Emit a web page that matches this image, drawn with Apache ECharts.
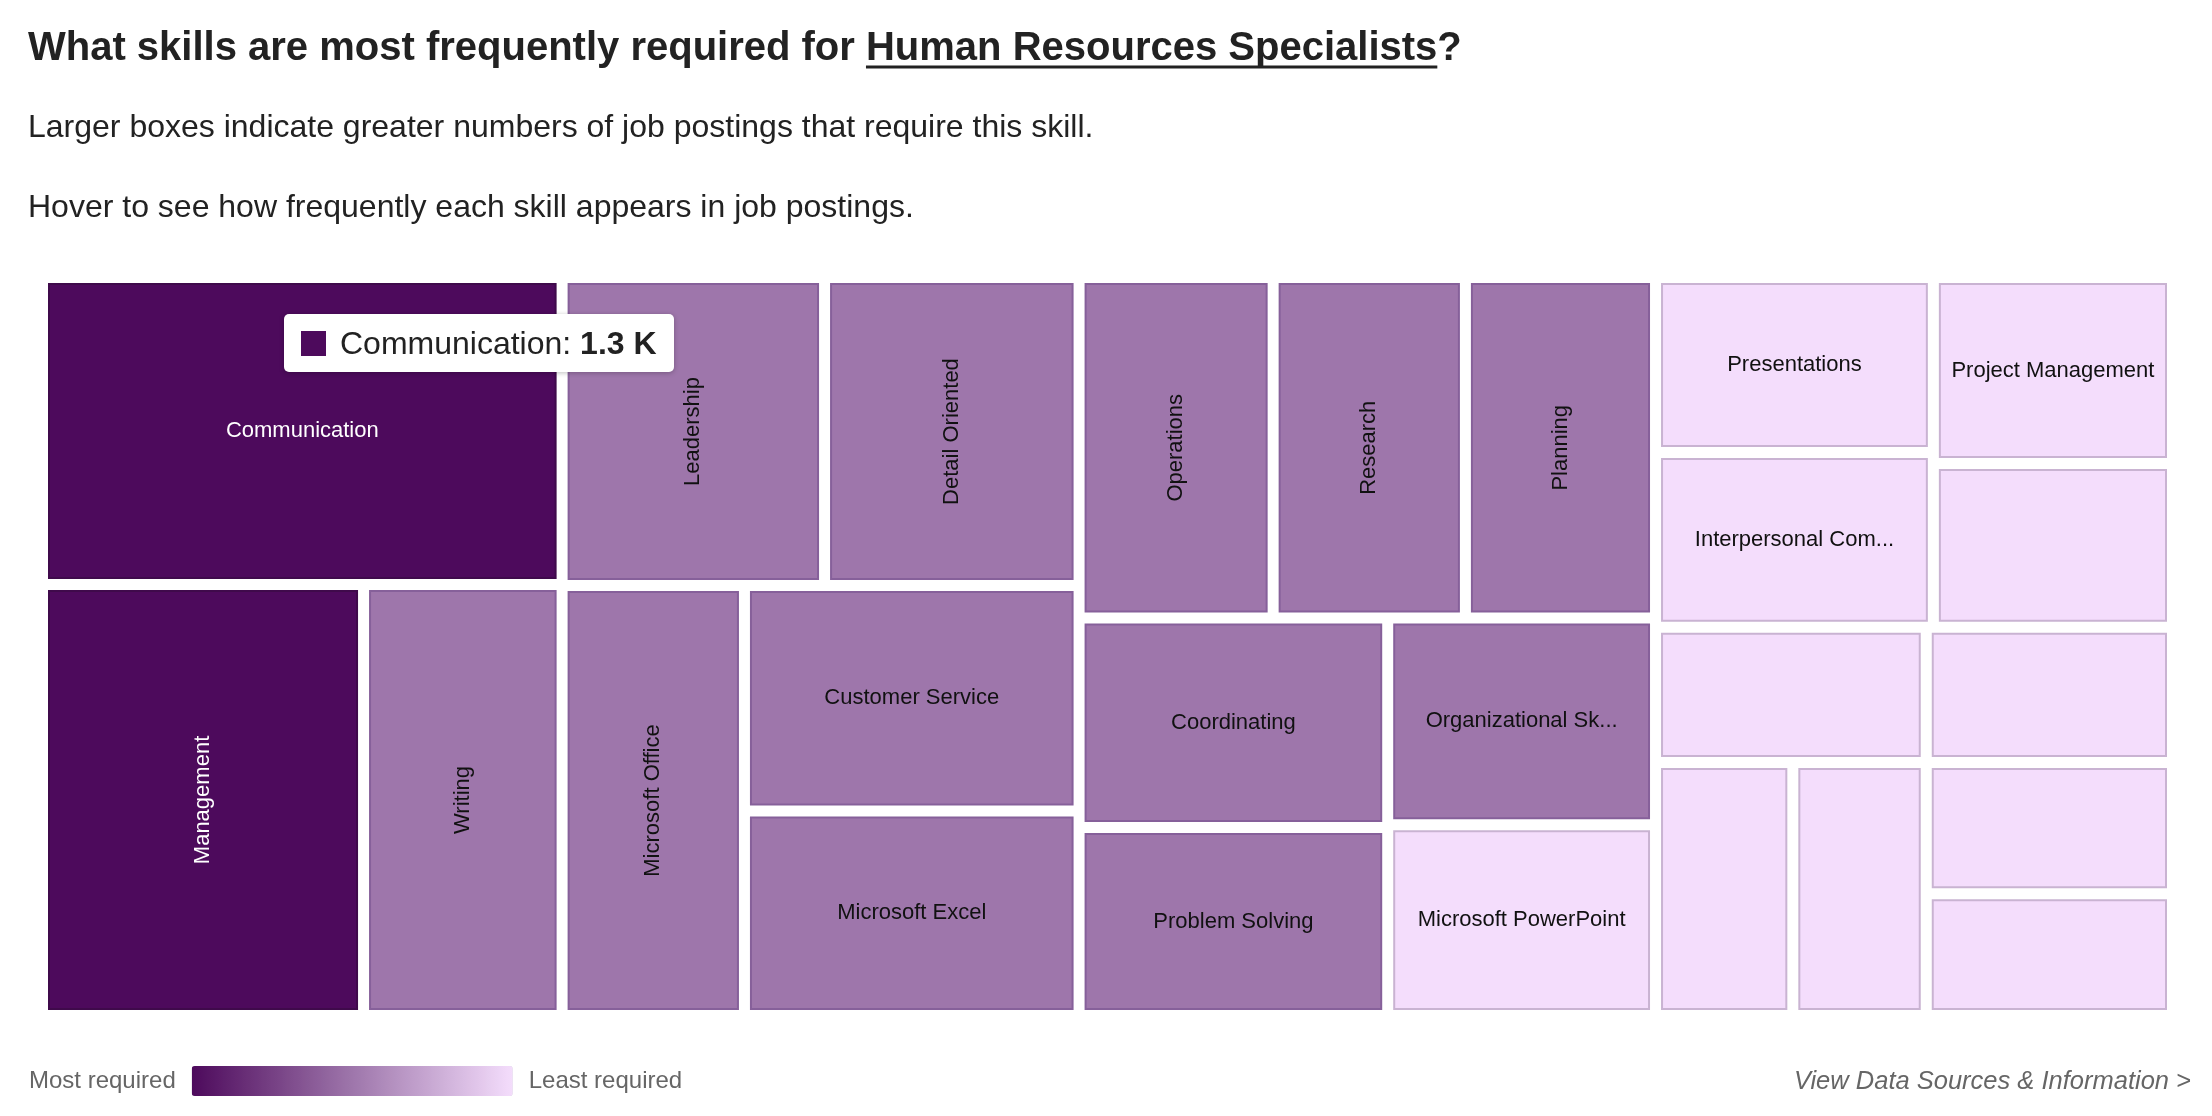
<!DOCTYPE html>
<html>
<head>
<meta charset="utf-8">
<script src="https://cdn.jsdelivr.net/npm/echarts@6/dist/echarts.min.js"></script>
<style>
html,body{margin:0;padding:0;background:#fff;}
#chart{width:2212px;height:1116px;}
</style>
</head>
<body>
<div id="chart"></div>
<script>
// ---------- text ----------
const titleLead = 'What skills are most frequently required for ';
const titleOccupation = 'Human Resources Specialists';
const titleTail = '?';
const subtitle1 = 'Larger boxes indicate greater numbers of job postings that require this skill.';
const subtitle2 = 'Hover to see how frequently each skill appears in job postings.';
const legendText = ['Most required', 'Least required'];
const sourceLink = 'View Data Sources & Information >';

// ---------- data (job postings requiring each skill) ----------
const skills = [
  'Communication', 'Management', 'Writing', 'Leadership', 'Detail Oriented',
  'Microsoft Office', 'Customer Service', 'Microsoft Excel', 'Operations', 'Research',
  'Planning', 'Coordinating', 'Problem Solving', 'Organizational Skills', 'Microsoft PowerPoint',
  'Presentations', 'Interpersonal Communication', 'Project Management',
  '', '', '', '', '', '', ''
];
const postings = [
  1308, 1135, 702, 663, 643,
  643, 619, 561, 542, 537,
  531, 530, 476, 454, 419,
  399, 398, 365,
  321, 300, 285, 277, 273, 265, 246
];
const tooltipSkill = 'Communication';

// ---------- styles ----------
const FONT = '"Liberation Sans", Arial, Helvetica, sans-serif';
const TIERS = [
  { fill: '#4d0a5c', border: '#3f0a4b', text: '#ffffff' },
  { fill: '#9e76ab', border: '#86609a', text: '#111111' },
  { fill: '#f4ddfc', border: '#c9b3d2', text: '#111111' }
];
function tierOf(v) { return v >= 1000 ? 0 : (v >= 450 ? 1 : 2); }
function shortLabel(n) { return n.length > 20 ? n.slice(0, 17) + '...' : n; }
function fmtCount(v) { return v >= 1000 ? (v / 1000).toFixed(1) + ' K' : String(v); }

const GAP = 11;
const groupStyle = { borderWidth: 0, borderColor: 'rgba(0,0,0,0)', gapWidth: GAP };

function makeLeaves(rotated) {
  return skills.map(function (name, i) {
    const t = TIERS[tierOf(postings[i])];
    return {
      name: name,
      value: postings[i],
      itemStyle: { color: t.fill, borderColor: t.border, borderWidth: 2 },
      label: {
        show: true,
        position: 'inside',
        rotate: rotated.has(name) && name ? 90 : 0,
        color: t.text,
        fontSize: 22,
        fontFamily: FONT,
        overflow: 'none',
        formatter: function (p) { return shortLabel(p.name); }
      }
    };
  });
}

// Group the value-ordered skills into a balanced binary hierarchy (split by value halves)
function binaryGroup(items) {
  if (items.length === 1) return items[0];
  const total = items.reduce(function (s, d) { return s + d.value; }, 0);
  const target = total / 2;
  const cum = [0];
  items.forEach(function (d) { cum.push(cum[cum.length - 1] + d.value); });
  let k = 1;
  while (k < items.length - 1 && cum[k] < target) k++;
  if (k > 1 && (target - cum[k - 1]) < (cum[k] - target)) k--;
  return {
    name: '',
    value: total,
    itemStyle: groupStyle,
    label: { show: false },
    children: [binaryGroup(items.slice(0, k)), binaryGroup(items.slice(k))]
  };
}

// measure title pieces for the underline
const TITLE_SIZE = 40;
const mctx = document.createElement('canvas').getContext('2d');
mctx.font = 'bold ' + TITLE_SIZE + 'px ' + FONT;
const wLead = mctx.measureText(titleLead).width;
const wOcc = mctx.measureText(titleOccupation).width;

const TX = 28;

function buildOption(rotated) {
  const root = binaryGroup(makeLeaves(rotated));
  return {
    animation: false,
    tooltip: {
      trigger: 'item',
      triggerOn: 'none',
      alwaysShowContent: true,
      transitionDuration: 0,
      position: [284, 314],
      backgroundColor: '#ffffff',
      borderWidth: 0,
      padding: [10, 17],
      textStyle: { fontSize: 32, color: '#222', fontFamily: FONT },
      extraCssText: 'box-shadow:0 1px 5px rgba(0,0,0,0.25);border-radius:5px;line-height:38px;',
      formatter: function (p) {
        return '<span style="display:inline-block;width:25px;height:25px;background:' + p.color +
          ';margin-right:14px;vertical-align:-2px"></span>' + p.name + ': <b>' + fmtCount(p.value) + '</b>';
      }
    },
    visualMap: {
      type: 'continuous',
      seriesIndex: [],
      min: 0,
      max: 1,
      orient: 'horizontal',
      inverse: true,
      calculable: false,
      left: 14,
      top: 1051,
      itemWidth: 30,
      itemHeight: 321,
      text: legendText,
      textGap: 16,
      textStyle: { color: '#666', fontSize: 24, fontFamily: FONT },
      inRange: { color: ['#f4ddfc', '#9e76ab', '#4d0a5c'] }
    },
    graphic: [
      { type: 'text', x: TX, y: 49, style: { text: titleLead + titleOccupation + titleTail, fontSize: TITLE_SIZE, fontWeight: 'bold', fontFamily: FONT, fill: '#222', verticalAlign: 'middle' } },
      { type: 'line', shape: { x1: TX + wLead, y1: 67, x2: TX + wLead + wOcc, y2: 67 }, style: { stroke: '#222', lineWidth: 3 } },
      { type: 'text', x: TX, y: 128, style: { text: subtitle1, fontSize: 32, fontFamily: FONT, fill: '#222', verticalAlign: 'middle' } },
      { type: 'text', x: TX, y: 208, style: { text: subtitle2, fontSize: 32, fontFamily: FONT, fill: '#222', verticalAlign: 'middle' } },
      { type: 'text', x: 2191, y: 1082, style: { text: sourceLink, fontSize: 25.5, fontStyle: 'italic', fontFamily: FONT, fill: '#666', align: 'right', verticalAlign: 'middle' } }
    ],
    series: [{
      type: 'treemap',
      left: 48, top: 283, width: 2119, height: 727,
      squareRatio: 1,
      sort: false,
      roam: false,
      nodeClick: false,
      breadcrumb: { show: false },
      itemStyle: { borderWidth: 0, borderColor: 'rgba(0,0,0,0)', gapWidth: GAP },
      label: { show: true, position: 'inside' },
      upperLabel: { show: false },
      emphasis: { disabled: true },
      data: root.children
    }]
  };
}

const chart = echarts.init(document.getElementById('chart'));
chart.setOption(buildOption(new Set()));

// rotate labels of boxes taller than wide (from the library's own layout)
const rotated = new Set();
try {
  const data = chart.getModel().getSeriesByIndex(0).getData();
  data.tree.root.eachNode(function (node) {
    if (!node.children || node.children.length === 0) {
      const l = node.getLayout();
      if (l && l.height > l.width) rotated.add(node.name);
    }
  });
} catch (e) {}
chart.setOption(buildOption(rotated), { notMerge: true });
chart.dispatchAction({ type: 'showTip', seriesIndex: 0, name: tooltipSkill });
</script>
</body>
</html>
